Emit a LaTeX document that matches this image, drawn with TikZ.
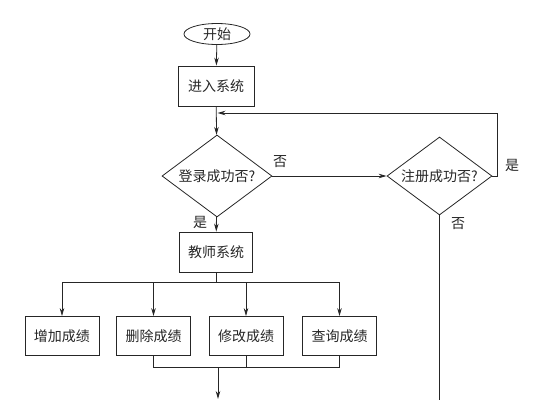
\documentclass[tikz,border=0pt]{standalone}
\usepackage{fontspec}
\setmainfont{Noto Sans CJK SC}
\usetikzlibrary{shapes.geometric,arrows.meta}
\begin{document}
\begin{tikzpicture}[x=1pt,y=-1pt,
  line width=0.8pt, draw=black!85,
  every node/.style={font=\fontsize{14}{16}\selectfont, text=black!85},
  arr/.style={-{Stealth[length=8pt,width=4.5pt]}},
  box/.style={draw, rectangle, inner sep=0pt, minimum width=74pt, minimum height=39pt},
  dec/.style={draw, diamond, inner sep=0pt, shape aspect=1.34},
  term/.style={draw, ellipse, inner sep=0pt, minimum width=66pt, minimum height=21pt},
  lab/.style={inner sep=0pt}]
\useasboundingbox (0,0) rectangle (536,400);
\node[term] (start) at (217,34) {开始};
\node[box, minimum width=76pt, minimum height=40pt] (enter) at (216,86) {进入系统};
\node[dec, minimum width=110pt, minimum height=82pt] (d1) at (217,176) {登录成功否?};
\node[dec, minimum width=105pt, minimum height=78pt] (d2) at (439.5,176) {注册成功否?};
\node[box, minimum width=73pt, minimum height=40pt] (teach) at (216,252) {教师系统};
\node[box] (b1) at (62,336) {增加成绩};
\node[box] (b2) at (153.5,336) {删除成绩};
\node[box] (b3) at (246,336) {修改成绩};
\node[box] (b4) at (339.5,336) {查询成绩};
\node[lab] (n1) at (280,162) {否};
\node[lab] (y2) at (512,165) {是};
\node[lab] (n2) at (458,224) {否};
\node[lab] (y1) at (200,222) {是};
\coordinate (loopR) at (497,113);
\coordinate (loopL) at (217.5,113);
\coordinate (br) at (216,282);
\coordinate (m) at (218,367);
\coordinate (endA) at (218,399);
\coordinate (endB) at (439.5,400);
\draw[arr] (start) -- (enter);
\draw[arr] (enter) -- (d1);
\draw[arr] (d1) -- (teach);
\draw[arr] (d1.east) -- (d2.west);
\draw (d2.east) -| (loopR);
\draw[arr] (loopR) -- (loopL);
\draw (d2.south) -- (endB);
\draw (teach.south) -- (teach.south |- br);
\draw (b1.north |- br) -- (b4.north |- br);
\draw[arr] (b1.north |- br) -- (b1.north);
\draw[arr] (b2.north |- br) -- (b2.north);
\draw[arr] (b3.north |- br) -- (b3.north);
\draw[arr] (b4.north |- br) -- (b4.north);
\draw (b2.south) -- (b2.south |- m) -- (b4.south |- m) -- (b4.south);
\draw (b3.south) -- (b3.south |- m);
\draw[arr] (m) -- (endA);
\end{tikzpicture}
\end{document}
